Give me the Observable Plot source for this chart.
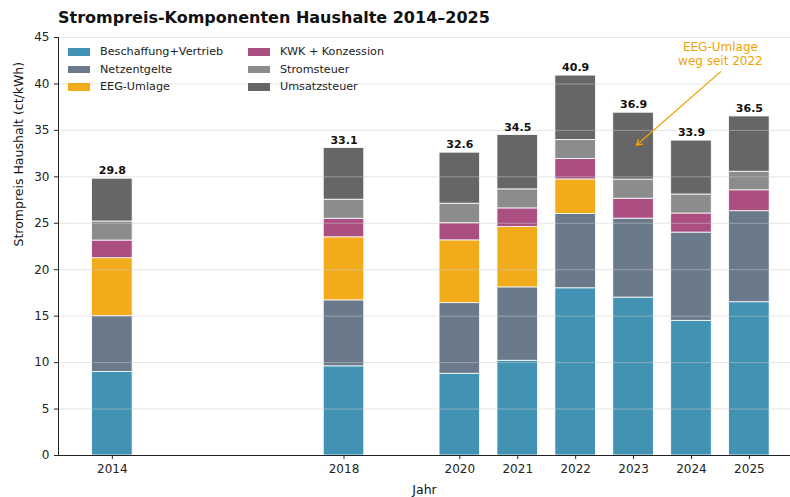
<!DOCTYPE html>
<html>
<head>
<meta charset="utf-8">
<script src="https://cdn.jsdelivr.net/npm/d3@7"></script>
<script src="https://cdn.jsdelivr.net/npm/@observablehq/plot@0.6"></script>
<style>
  html, body { margin: 0; padding: 0; background: #fff; }
  body { font-family: "DejaVu Sans", sans-serif; }
  #wrap { position: relative; width: 790px; height: 497px; overflow: hidden; }
  #title { position: absolute; left: 58px; top: 8px; font-size: 16px; font-weight: bold; color: #111; white-space: nowrap; }
  #legend { position: absolute; left: 68px; top: 43px; display: grid; grid-template-columns: 180px 160px; row-gap: 0px; font-size: 11.2px; color: #222; }
  .li { display: flex; align-items: center; height: 17.5px; white-space: nowrap; }
  .sw { width: 22px; height: 7.5px; margin-right: 10px; }
</style>
</head>
<body>
<div id="wrap">
  <div id="chart"></div>
  <div id="title">Strompreis-Komponenten Haushalte 2014–2025</div>
  <div id="legend"></div>
</div>
<script>
const years = [2014, 2018, 2020, 2021, 2022, 2023, 2024, 2025];
const series = ["Beschaffung+Vertrieb", "Netzentgelte", "EEG-Umlage", "KWK + Konzession", "Stromsteuer", "Umsatzsteuer"];
const colors = ["#2E86AB", "#5A6B7D", "#F0A202", "#A23B72", "#808080", "#555555"];
const beschaffung = [9.0, 9.6, 8.8, 10.2, 18.0, 17.0, 14.5, 16.5];
const netzentgelte = [6.0, 7.1, 7.6, 7.9, 8.0, 8.5, 9.5, 9.8];
const eeg = [6.24, 6.79, 6.76, 6.5, 3.72, 0, 0, 0];
const kwk = [1.9, 2.0, 1.85, 2.0, 2.2, 2.15, 2.05, 2.25];
const stromsteuer = [2.05, 2.05, 2.1, 2.05, 2.05, 2.05, 2.05, 2.0];
const totals = [29.8, 33.1, 32.6, 34.5, 40.9, 36.9, 33.9, 36.5];
const yTicks = [0, 5, 10, 15, 20, 25, 30, 35, 40, 45];
const annotationText = "EEG-Umlage\nweg seit 2022";

const parts = [beschaffung, netzentgelte, eeg, kwk, stromsteuer];
const rows = [];
years.forEach((yr, i) => {
  let base = 0;
  parts.forEach((arr, k) => {
    rows.push({year: yr, series: series[k], y1: base, y2: base + arr[i]});
    base += arr[i];
  });
  rows.push({year: yr, series: series[5], y1: base, y2: totals[i]});
});
const totalRows = years.map((yr, i) => ({year: yr, total: totals[i]}));

const halfW = 0.35;
const plot = Plot.plot({
  width: 790,
  height: 497,
  marginLeft: 58,
  marginRight: 0,
  marginTop: 37,
  marginBottom: 42,
  style: {fontFamily: "DejaVu Sans, sans-serif", fontSize: "11px", color: "#222", background: "white"},
  x: {type: "linear", domain: [2013.07, 2025.71], ticks: years, tickFormat: d => String(d), tickSize: 4, label: null},
  y: {domain: [0, 45], ticks: yTicks, tickSize: 4, label: null},
  color: {domain: series, range: colors},
  marks: [
    Plot.rect(rows, {x1: d => d.year - halfW, x2: d => d.year + halfW, y1: "y1", y2: "y2", fill: "series", fillOpacity: 0.9, stroke: "white", strokeWidth: 0.8}),
    Plot.ruleY(yTicks.slice(1), {stroke: "#cccccc", strokeOpacity: 0.5, strokeWidth: 1}),
    Plot.text(totalRows, {x: "year", y: "total", text: d => d.total.toFixed(1), dy: -8, fontWeight: "bold", fontSize: 11, fill: "#111"}),
    Plot.ruleY([0], {stroke: "#222", strokeWidth: 1}),
    Plot.ruleX([2013.07], {y1: 0, y2: 45, stroke: "#222", strokeWidth: 1}),
    Plot.arrow([{x1: 2024.5, y1: 41.3, x2: 2023.05, y2: 33.4}], {x1: "x1", y1: "y1", x2: "x2", y2: "y2", stroke: "#F0A202", strokeWidth: 1.3, headLength: 7, bend: 0}),
    Plot.text([{x: 2024.5, y: 43.3}], {x: "x", y: "y", text: () => annotationText, fill: "#F0A202", fontSize: 12, lineHeight: 1.15, textAnchor: "middle"}),
    Plot.axisY({ticks: yTicks, tickSize: 4, label: null, fontSize: 12}),
    Plot.axisX({ticks: years, tickFormat: d => String(d), tickSize: 4, label: null, fontSize: 12}),
    Plot.text(["Jahr"], {frameAnchor: "bottom", dy: 38, fontSize: 12.5, fill: "#111"}),
    Plot.text(["Strompreis Haushalt (ct/kWh)"], {frameAnchor: "left", dx: -40, rotate: -90, fontSize: 12.5, fill: "#111"})
  ]
});
document.getElementById("chart").appendChild(plot);

const leg = document.getElementById("legend");
const order = [0, 3, 1, 4, 2, 5];
order.forEach(k => {
  const el = document.createElement("div");
  el.className = "li";
  el.innerHTML = `<span class="sw" style="background:${colors[k]};opacity:0.9"></span><span>${series[k]}</span>`;
  leg.appendChild(el);
});
</script>
</body>
</html>
